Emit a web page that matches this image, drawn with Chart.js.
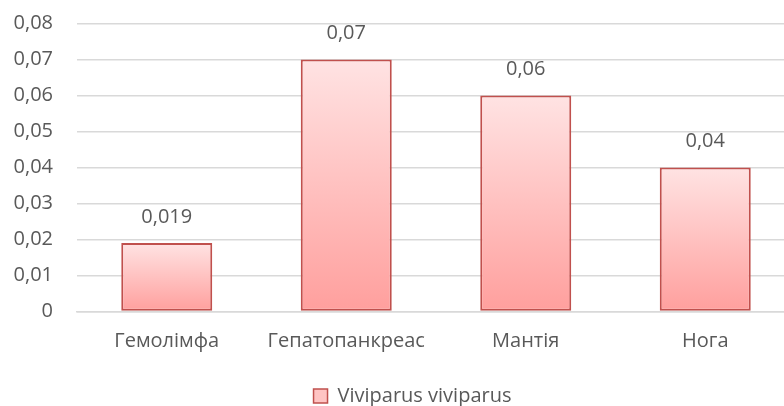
<!DOCTYPE html>
<html>
<head>
<meta charset="utf-8">
<script src="https://cdn.jsdelivr.net/npm/chart.js@4.4.1/dist/chart.umd.min.js"></script>
<style>
    html, body { margin: 0; padding: 0; background: #fff; overflow: hidden; }
    #wrap { position: relative; width: 826px; height: 406px; }
</style>
</head>
<body>
<div id="wrap"><canvas id="chart"></canvas></div>
<script>
const categories = ['Гемолімфа', 'Гепатопанкреас', 'Мантія', 'Нога'];
const seriesName = 'Viviparus viviparus';
const values = [0.019, 0.07, 0.06, 0.04];
const valueLabels = ['0,019', '0,07', '0,06', '0,04'];
const yTicks = [0, 0.01, 0.02, 0.03, 0.04, 0.05, 0.06, 0.07, 0.08];

const FONT = "'Open Sans', sans-serif";
const SIZE = 20;
const TEXT = '#595959';

const fmt = (v) => {
    if (v === 0) return '0';
    return v.toFixed(2).replace('.', ',');
};

// gradient for each bar, light at the top and darker at the bottom
const barFill = (ctx) => {
    const chart = ctx.chart;
    if (!chart.chartArea || ctx.type !== 'data') return '#ffc0bf';
    const y = chart.scales.y;
    const top = y.getPixelForValue(values[ctx.dataIndex]);
    const bottom = y.getPixelForValue(0);
    const g = chart.ctx.createLinearGradient(0, top, 0, bottom);
    g.addColorStop(0, '#ffe3e3');
    g.addColorStop(1, '#ff9f9d');
    return g;
};

const valueLabelPlugin = {
    id: 'valueLabels',
    afterLayout(chart) {
        // the legend sits a little right of centre and low, like the original
        chart.legend.left += 15;
        chart.legend.right += 15;
        chart.legend.top += 10;
        chart.legend.bottom += 10;
    },
    afterDatasetsDraw(chart) {
        const ctx = chart.ctx;
        const meta = chart.getDatasetMeta(0);
        ctx.save();
        ctx.fillStyle = TEXT;
        ctx.font = SIZE + 'px ' + FONT;
        ctx.textAlign = 'center';
        ctx.textBaseline = 'middle';
        meta.data.forEach((bar, i) => {
            ctx.fillText(valueLabels[i], bar.x, bar.y - 26);
        });
        ctx.restore();
    }
};

new Chart(document.getElementById('chart'), {
    type: 'bar',
    data: {
        labels: categories,
        datasets: [{
            label: seriesName,
            data: values,
            backgroundColor: barFill,
            borderColor: '#c0504d',
            borderWidth: 2,
            borderSkipped: false,
            categoryPercentage: 1,
            barPercentage: 0.507
        }]
    },
    options: {
        responsive: true,
        maintainAspectRatio: false,
        animation: false,
        layout: { padding: { left: 0, right: 31, top: 0, bottom: 0 } },
        plugins: {
            legend: {
                position: 'bottom',
                labels: {
                    color: TEXT,
                    font: { family: FONT, size: SIZE },
                    boxWidth: 14,
                    boxHeight: 14,
                    padding: 10,
                    generateLabels: () => [{
                        text: seriesName,
                        fillStyle: '#ffc4c3',
                        strokeStyle: '#c0504d',
                        lineWidth: 1.5,
                        fontColor: TEXT,
                        datasetIndex: 0
                    }]
                }
            },
            tooltip: { enabled: false }
        },
        scales: {
            x: {
                afterFit: (scale) => { scale.height = 54.5; },
                grid: { display: false, drawTicks: false },
                border: { color: '#d9d9d9', width: 1.5 },
                ticks: {
                    color: TEXT,
                    font: { family: FONT, size: SIZE },
                    padding: 18
                }
            },
            y: {
                min: 0,
                max: 0.08,
                afterFit: (scale) => {
                    scale.width = 77;
                    scale.paddingTop = 23.5;
                    scale.paddingBottom = 0;
                },
                afterBuildTicks: (scale) => {
                    scale.ticks = yTicks.map(v => ({ value: v }));
                },
                grid: { color: '#d9d9d9', lineWidth: 1.5, drawTicks: false },
                border: { display: false },
                ticks: {
                    color: TEXT,
                    font: { family: FONT, size: SIZE },
                    padding: 24,
                    callback: (v) => fmt(v)
                }
            }
        }
    },
    plugins: [valueLabelPlugin]
});
</script>
</body>
</html>
